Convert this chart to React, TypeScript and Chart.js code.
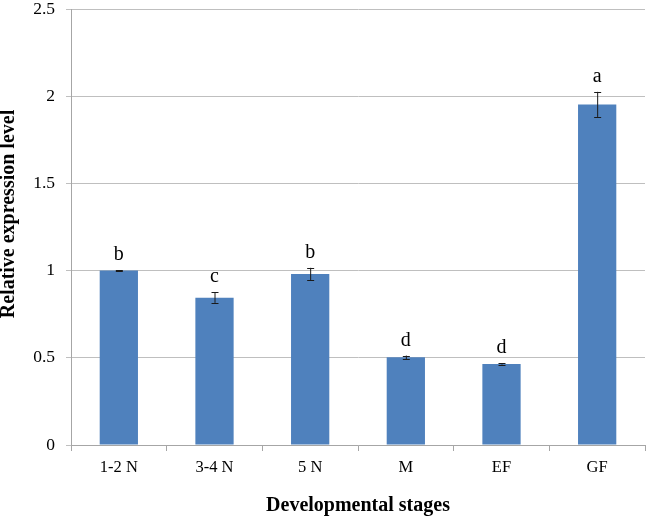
import React, { useEffect, useRef } from "react";
import { Chart, registerables } from "chart.js";

Chart.register(...registerables);

const categories = ["1-2 N", "3-4 N", "5 N", "M", "EF", "GF"];
const values = [1.0, 0.845, 0.98, 0.503, 0.465, 1.953];
const errors = [0.002, 0.03, 0.036, 0.01, 0.004, 0.072];
const letters = ["b", "c", "b", "d", "d", "a"];
const yTicks = [0, 0.5, 1, 1.5, 2, 2.5];
const yTitle = "Relative expression level";
const xTitle = "Developmental stages";

const FONT = "'Liberation Serif', 'Times New Roman', serif";

const errorPlugin = {
  id: "errorLetters",
  afterDatasetsDraw(chart: any) {
    const ctx = chart.ctx;
    const meta = chart.getDatasetMeta(0);
    const y = chart.scales.y;
    ctx.save();
    meta.data.forEach((bar: any, i: number) => {
      const x = bar.x;
      const top = y.getPixelForValue(values[i] + errors[i]);
      const bot = y.getPixelForValue(values[i] - errors[i]);
      ctx.strokeStyle = "#1a1a1a";
      ctx.lineWidth = 1;
      ctx.beginPath();
      ctx.moveTo(x + 0.5, top);
      ctx.lineTo(x + 0.5, bot);
      ctx.moveTo(x - 3, Math.round(top) + 0.5);
      ctx.lineTo(x + 4, Math.round(top) + 0.5);
      ctx.moveTo(x - 3, Math.round(bot) + 0.5);
      ctx.lineTo(x + 4, Math.round(bot) + 0.5);
      ctx.stroke();
      ctx.fillStyle = "#000";
      ctx.font = `20px ${FONT}`;
      ctx.textAlign = "center";
      ctx.textBaseline = "alphabetic";
      ctx.fillText(letters[i], x, top - 10);
    });
    // y-axis title
    ctx.translate(9, 214);
    ctx.rotate(-Math.PI / 2);
    ctx.font = `bold 20px ${FONT}`;
    ctx.textAlign = "center";
    ctx.textBaseline = "middle";
    ctx.fillStyle = "#000";
    ctx.fillText(yTitle, 0, 0);
    ctx.restore();
  },
};

export default function App() {
  const ref = useRef<HTMLCanvasElement>(null);
  useEffect(() => {
    document.body.style.margin = "0";
    const chart = new Chart(ref.current!, {
      type: "bar",
      data: {
        labels: categories,
        datasets: [
          {
            data: values,
            backgroundColor: "#4f81bd",
            categoryPercentage: 1,
            barPercentage: 0.4,
          },
        ],
      },
      plugins: [errorPlugin],
      options: {
        responsive: false,
        animation: false,
        layout: { padding: { top: 9, right: 4, left: 0, bottom: 0 } },
        plugins: { legend: { display: false }, tooltip: { enabled: false } },
        scales: {
          x: {
            grid: {
              display: true,
              drawOnChartArea: false,
              drawTicks: true,
              tickLength: 6,
              color: "#a6a6a6",
              offset: true,
            },
            border: { color: "#a6a6a6" },
            ticks: {
              color: "#000",
              font: { family: FONT, size: 16.5 },
              padding: 7,
            },
            title: {
              display: true,
              text: xTitle,
              color: "#000",
              font: { family: FONT, size: 20, weight: "bold" },
              padding: { top: 15, bottom: 0 },
            },
            afterFit(scale: any) {
              scale.height = 73;
              scale.paddingLeft = 0;
              scale.paddingRight = 0;
            },
          },
          y: {
            min: 0,
            max: 2.5,
            afterBuildTicks(scale: any) {
              scale.ticks = yTicks.map((v) => ({ value: v }));
            },
            grid: {
              color: "#bfbfbf",
              tickLength: 5,
            },
            border: { color: "#a6a6a6" },
            ticks: {
              color: "#000",
              font: { family: FONT, size: 17.5 },
              padding: 11,
              callback: (v: any) => String(v),
            },
            afterFit(scale: any) {
              scale.width = 71;
              scale.paddingTop = 0;
              scale.paddingBottom = 0;
            },
          },
        },
      },
    });
    return () => chart.destroy();
  }, []);
  return <canvas ref={ref} width={649} height={518} style={{ display: "block" }} />;
}
